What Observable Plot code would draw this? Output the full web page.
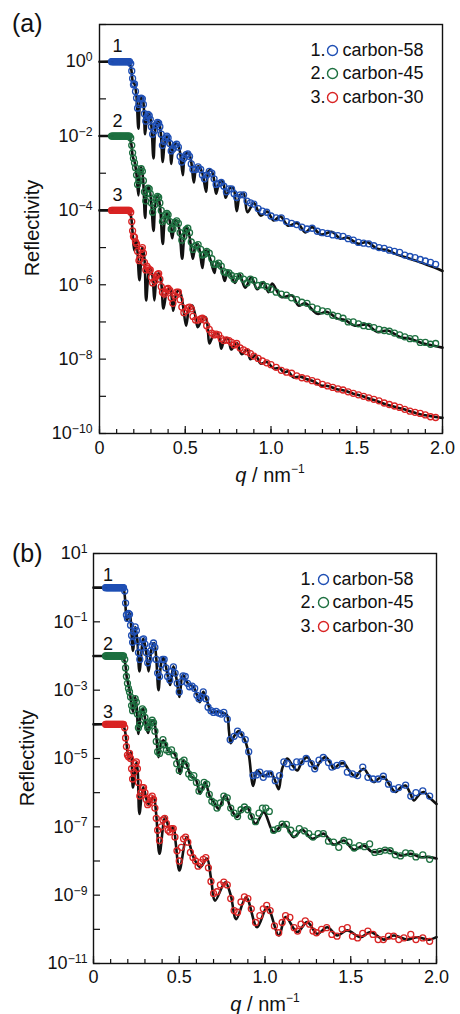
<!DOCTYPE html>
<html><head><meta charset="utf-8">
<script src="https://cdn.jsdelivr.net/npm/d3@7"></script>
<script src="https://cdn.jsdelivr.net/npm/@observablehq/plot@0.6"></script>
<style>
body{margin:0;background:#fff;font-family:"Liberation Sans",Arial,sans-serif;color:#111}
#wrap{position:relative;width:460px;height:1014px;overflow:hidden}
.panel{position:absolute;left:0}
.tag{position:absolute;font-size:25px;line-height:1;transform:translateY(-50%)}
.ylab{position:absolute;font-size:20px;white-space:nowrap;transform:translate(-50%,-50%) rotate(-90deg)}
.xlab{position:absolute;font-size:20px;white-space:nowrap;transform:translate(-50%,-50%)}
.xlab sup{font-size:12px;vertical-align:9px;line-height:0}
</style></head>
<body><div id="wrap"></div>
<script>
// ---------- shared ----------
const seriesNames = ["carbon-58", "carbon-45", "carbon-30"];
const seriesColors = ["#1f4fb4", "#1d7040", "#d92424"];
const curveNumbers = ["1", "2", "3"];
const xMinorTicks = [0,0.1,0.2,0.3,0.4,0.5,0.6,0.7,0.8,0.9,1.0,1.1,1.2,1.3,1.4,1.5,1.6,1.7,1.8,1.9,2.0];
const xMajorTicks = [0, 0.5, 1.0, 1.5, 2.0];
const flatQ = [0.07,0.075,0.08,0.085,0.09,0.095,0.1,0.105,0.11,0.115,0.12,0.125,0.13,0.135,0.14,0.145,0.15,0.155,0.16,0.165,0.17,0.175];

// ---------- panel (a): [q, log10 R] ----------
const aExpAll = [1,0,-1,-2,-3,-4,-5,-6,-7,-8,-9,-10];
const aExpLabeled = [0,-2,-4,-6,-8,-10];
const aFlat = [0, -2, -4];
const aFit1 = [[0,0],[0.1,0],[0.16,-0.01],[0.175,-0.05],[0.185,-0.2],[0.195,-0.55],[0.204,-0.6],[0.215,-0.9],[0.227,-1.8],[0.24,-1.0],[0.25,-0.96],[0.258,-1.2],[0.266,-1.95],[0.28,-1.45],[0.29,-1.42],[0.302,-1.7],[0.315,-2.6],[0.33,-1.7],[0.345,-1.62],[0.357,-1.9],[0.369,-2.7],[0.385,-2.05],[0.398,-2.0],[0.41,-2.2],[0.418,-2.75],[0.435,-2.25],[0.455,-2.22],[0.47,-2.45],[0.486,-3.05],[0.5,-2.5],[0.52,-2.46],[0.535,-2.7],[0.55,-3.25],[0.565,-2.85],[0.58,-2.82],[0.6,-3.0],[0.622,-3.5],[0.635,-2.95],[0.65,-2.92],[0.665,-3.1],[0.68,-3.55],[0.7,-3.25],[0.72,-3.23],[0.735,-3.66],[0.76,-3.4],[0.78,-3.4],[0.8,-4.02],[0.82,-3.58],[0.84,-3.55],[0.863,-4.05],[0.9,-3.8],[0.94,-4.14],[0.978,-4.03],[1.015,-4.27],[1.055,-4.16],[1.1,-4.41],[1.153,-4.34],[1.2,-4.59],[1.24,-4.45],[1.29,-4.65],[1.357,-4.58],[1.405,-4.76],[1.444,-4.73],[1.51,-4.9],[1.56,-4.85],[1.62,-5.03],[1.68,-5.07],[1.735,-5.19],[1.81,-5.3],[1.89,-5.43],[1.95,-5.53],[2.0,-5.63]];
const aFit2 = [[0,-2],[0.1,-2],[0.16,-2.01],[0.175,-2.05],[0.185,-2.2],[0.194,-2.55],[0.205,-2.7],[0.215,-3.0],[0.227,-3.6],[0.236,-2.9],[0.243,-2.84],[0.253,-3.1],[0.266,-4.2],[0.278,-3.45],[0.288,-3.38],[0.3,-3.7],[0.315,-4.55],[0.33,-3.65],[0.34,-3.6],[0.353,-3.9],[0.369,-4.9],[0.385,-4.15],[0.398,-4.09],[0.41,-4.3],[0.424,-4.75],[0.44,-4.3],[0.45,-4.27],[0.465,-4.5],[0.482,-5.3],[0.5,-4.5],[0.51,-4.45],[0.525,-4.7],[0.544,-5.3],[0.56,-4.95],[0.573,-4.9],[0.585,-5.1],[0.6,-5.55],[0.615,-5.1],[0.626,-5.08],[0.645,-5.3],[0.67,-5.68],[0.68,-5.45],[0.69,-5.4],[0.71,-5.55],[0.73,-5.9],[0.748,-5.62],[0.764,-5.72],[0.79,-5.95],[0.816,-5.72],[0.85,-6.08],[0.885,-5.8],[0.92,-6.12],[0.957,-5.93],[0.986,-6.2],[1.007,-5.97],[1.06,-6.33],[1.124,-6.29],[1.16,-6.56],[1.2,-6.5],[1.27,-6.78],[1.328,-6.73],[1.386,-6.91],[1.43,-6.95],[1.49,-7.1],[1.56,-7.07],[1.62,-7.27],[1.68,-7.23],[1.755,-7.41],[1.81,-7.45],[1.89,-7.58],[1.95,-7.64],[2.0,-7.69]];
const aFit3 = [[0,-4],[0.1,-4],[0.16,-4.01],[0.175,-4.05],[0.185,-4.2],[0.193,-4.6],[0.203,-5.08],[0.215,-4.8],[0.233,-5.88],[0.25,-4.99],[0.262,-5.3],[0.272,-6.42],[0.29,-5.6],[0.298,-5.57],[0.31,-5.8],[0.32,-6.42],[0.335,-5.75],[0.346,-5.69],[0.36,-5.95],[0.373,-6.64],[0.395,-6.15],[0.41,-6.1],[0.42,-6.3],[0.43,-6.7],[0.45,-6.2],[0.466,-6.16],[0.485,-6.5],[0.505,-7.1],[0.525,-6.6],[0.54,-6.56],[0.555,-6.75],[0.573,-7.14],[0.6,-6.9],[0.618,-6.87],[0.63,-7.1],[0.641,-7.58],[0.665,-7.35],[0.69,-7.31],[0.7,-7.45],[0.71,-7.72],[0.73,-7.47],[0.75,-7.45],[0.768,-7.74],[0.8,-7.57],[0.83,-7.87],[0.86,-7.74],[0.88,-8.0],[0.91,-7.9],[0.94,-8.12],[0.975,-8.08],[1.016,-8.25],[1.05,-8.24],[1.075,-8.36],[1.1,-8.33],[1.13,-8.49],[1.17,-8.47],[1.21,-8.54],[1.25,-8.6],[1.29,-8.71],[1.33,-8.72],[1.38,-8.8],[1.43,-8.85],[1.48,-8.93],[1.53,-8.99],[1.57,-9.06],[1.62,-9.13],[1.66,-9.2],[1.71,-9.27],[1.76,-9.33],[1.81,-9.4],[1.85,-9.46],[1.9,-9.51],[1.95,-9.55],[2.0,-9.58]];
const aData1 = [[0.182,-0.05],[0.188,-0.25],[0.193,-0.45],[0.198,-0.62],[0.204,-0.6],[0.21,-0.8],[0.216,-0.98],[0.222,-1.25],[0.23,-1.15],[0.236,-1.0],[0.243,-0.98],[0.25,-1.0],[0.256,-1.15],[0.262,-1.4],[0.27,-1.6],[0.276,-1.5],[0.283,-1.42],[0.29,-1.45],[0.296,-1.55],[0.303,-1.75],[0.31,-1.95],[0.322,-1.85],[0.33,-1.7],[0.338,-1.63],[0.345,-1.65],[0.352,-1.75],[0.36,-1.95],[0.367,-2.25],[0.378,-2.15],[0.386,-2.05],[0.393,-2.0],[0.4,-2.05],[0.41,-2.2],[0.418,-2.4],[0.428,-2.35],[0.44,-2.25],[0.45,-2.22],[0.46,-2.3],[0.47,-2.55],[0.48,-2.7],[0.492,-2.6],[0.505,-2.5],[0.515,-2.48],[0.525,-2.55],[0.535,-2.75],[0.545,-2.9],[0.56,-2.9],[0.575,-2.83],[0.59,-2.9],[0.6,-3.05],[0.612,-3.15],[0.625,-3.05],[0.64,-2.95],[0.655,-3.0],[0.668,-3.15],[0.68,-3.3],[0.695,-3.28],[0.71,-3.25],[0.725,-3.35],[0.74,-3.5],[0.755,-3.42],[0.77,-3.42],[0.785,-3.55],[0.8,-3.65],[0.82,-3.58],[0.84,-3.58],[0.86,-3.75],[0.88,-3.8],[0.9,-3.83],[0.925,-3.95],[0.95,-4.02],[0.975,-4.05],[1.0,-4.15],[1.03,-4.2],[1.06,-4.2],[1.09,-4.3],[1.12,-4.35],[1.15,-4.38],[1.18,-4.45],[1.21,-4.5],[1.24,-4.48],[1.27,-4.56],[1.3,-4.6],[1.33,-4.62],[1.36,-4.66],[1.39,-4.68],[1.42,-4.7],[1.45,-4.76],[1.48,-4.8],[1.51,-4.86],[1.54,-4.88],[1.57,-4.9],[1.6,-4.95],[1.63,-5.0],[1.66,-5.02],[1.69,-5.07],[1.72,-5.1],[1.75,-5.13],[1.78,-5.2],[1.81,-5.24],[1.84,-5.27],[1.87,-5.32],[1.9,-5.36],[1.93,-5.4],[1.96,-5.45]];
const aData2 = [[0.182,-2.05],[0.188,-2.25],[0.193,-2.45],[0.198,-2.6],[0.204,-2.72],[0.21,-2.85],[0.216,-3.05],[0.222,-3.3],[0.23,-3.2],[0.236,-2.95],[0.243,-2.88],[0.25,-2.95],[0.256,-3.2],[0.262,-3.5],[0.27,-3.75],[0.276,-3.55],[0.283,-3.4],[0.29,-3.42],[0.296,-3.55],[0.303,-3.8],[0.31,-4.05],[0.322,-3.85],[0.33,-3.68],[0.338,-3.62],[0.345,-3.65],[0.352,-3.8],[0.36,-4.0],[0.367,-4.3],[0.378,-4.25],[0.386,-4.12],[0.393,-4.08],[0.4,-4.12],[0.41,-4.3],[0.418,-4.5],[0.428,-4.5],[0.44,-4.32],[0.45,-4.28],[0.46,-4.35],[0.47,-4.6],[0.48,-4.8],[0.492,-4.7],[0.505,-4.52],[0.515,-4.48],[0.525,-4.6],[0.535,-4.85],[0.545,-5.05],[0.56,-4.95],[0.575,-4.92],[0.59,-5.05],[0.6,-5.2],[0.612,-5.18],[0.625,-5.1],[0.64,-5.15],[0.655,-5.3],[0.668,-5.45],[0.68,-5.45],[0.695,-5.42],[0.71,-5.5],[0.725,-5.65],[0.74,-5.68],[0.755,-5.68],[0.77,-5.75],[0.785,-5.85],[0.8,-5.78],[0.82,-5.76],[0.84,-5.85],[0.86,-5.95],[0.88,-5.85],[0.9,-5.88],[0.925,-6.02],[0.95,-6.0],[0.975,-6.05],[1.0,-6.12],[1.03,-6.2],[1.06,-6.25],[1.09,-6.28],[1.12,-6.35],[1.15,-6.4],[1.18,-6.47],[1.21,-6.5],[1.24,-6.6],[1.27,-6.65],[1.3,-6.7],[1.33,-6.72],[1.36,-6.82],[1.39,-6.85],[1.42,-6.9],[1.45,-7.0],[1.48,-7.0],[1.51,-7.05],[1.54,-7.1],[1.57,-7.12],[1.6,-7.15],[1.63,-7.2],[1.66,-7.23],[1.69,-7.25],[1.72,-7.3],[1.75,-7.35],[1.78,-7.4],[1.81,-7.45],[1.84,-7.45],[1.87,-7.55],[1.9,-7.55],[1.93,-7.6],[1.96,-7.58]];
const aData3 = [[0.182,-4.05],[0.188,-4.3],[0.193,-4.55],[0.198,-4.7],[0.204,-4.72],[0.21,-4.85],[0.216,-4.9],[0.222,-5.1],[0.23,-5.35],[0.236,-5.3],[0.243,-5.05],[0.25,-5.0],[0.256,-5.15],[0.262,-5.4],[0.27,-5.6],[0.276,-5.5],[0.283,-5.55],[0.29,-5.6],[0.296,-5.6],[0.303,-5.8],[0.31,-5.95],[0.322,-5.9],[0.33,-5.78],[0.338,-5.72],[0.345,-5.7],[0.352,-5.85],[0.36,-6.05],[0.367,-6.2],[0.378,-6.25],[0.386,-6.2],[0.393,-6.12],[0.4,-6.1],[0.41,-6.15],[0.418,-6.35],[0.428,-6.5],[0.44,-6.3],[0.45,-6.2],[0.46,-6.2],[0.47,-6.4],[0.48,-6.6],[0.492,-6.75],[0.505,-6.7],[0.515,-6.62],[0.525,-6.6],[0.535,-6.65],[0.545,-6.85],[0.56,-6.95],[0.575,-6.95],[0.59,-6.92],[0.6,-6.9],[0.612,-6.95],[0.625,-7.1],[0.64,-7.2],[0.655,-7.3],[0.668,-7.35],[0.68,-7.33],[0.695,-7.35],[0.71,-7.45],[0.725,-7.5],[0.74,-7.48],[0.755,-7.5],[0.77,-7.55],[0.785,-7.62],[0.8,-7.58],[0.82,-7.7],[0.84,-7.75],[0.86,-7.8],[0.88,-7.85],[0.9,-7.92],[0.925,-7.98],[0.95,-8.05],[0.975,-8.1],[1.0,-8.15],[1.03,-8.22],[1.06,-8.3],[1.09,-8.35],[1.12,-8.38],[1.15,-8.45],[1.18,-8.5],[1.21,-8.53],[1.24,-8.58],[1.27,-8.62],[1.3,-8.68],[1.33,-8.72],[1.36,-8.76],[1.39,-8.8],[1.42,-8.83],[1.45,-8.88],[1.48,-8.92],[1.51,-8.96],[1.54,-9.0],[1.57,-9.04],[1.6,-9.08],[1.63,-9.12],[1.66,-9.18],[1.69,-9.22],[1.72,-9.26],[1.75,-9.3],[1.78,-9.35],[1.81,-9.4],[1.84,-9.43],[1.87,-9.46],[1.9,-9.5],[1.93,-9.55],[1.96,-9.57]];

// ---------- panel (b): [q, log10 R] ----------
const bExpAll = [1,0,-1,-2,-3,-4,-5,-6,-7,-8,-9,-10,-11];
const bExpLabeled = [1,-1,-3,-5,-7,-9,-11];
const bFlat = [0, -2, -4];
const bFit1 = [[0,0],[0.1,0],[0.16,-0.01],[0.175,-0.05],[0.185,-0.4],[0.194,-0.96],[0.21,-0.75],[0.23,-1.85],[0.243,-1.15],[0.255,-1.5],[0.268,-2.45],[0.29,-1.5],[0.305,-1.8],[0.321,-2.45],[0.34,-1.75],[0.354,-1.62],[0.365,-2.0],[0.379,-3.0],[0.395,-2.2],[0.408,-2.05],[0.43,-2.5],[0.447,-2.85],[0.466,-2.3],[0.485,-2.7],[0.501,-3.2],[0.521,-2.55],[0.55,-2.8],[0.583,-2.9],[0.6,-3.1],[0.62,-3.35],[0.64,-3.05],[0.661,-3.3],[0.69,-3.65],[0.72,-3.62],[0.75,-3.66],[0.777,-3.72],[0.79,-4.2],[0.8,-4.55],[0.82,-4.35],[0.847,-4.2],[0.87,-4.35],[0.886,-4.5],[0.906,-4.9],[0.931,-5.8],[0.954,-5.35],[0.975,-5.45],[0.993,-5.52],[1.032,-5.42],[1.055,-5.6],[1.08,-5.9],[1.1,-5.3],[1.129,-5.0],[1.16,-5.2],[1.188,-5.35],[1.215,-5.1],[1.246,-4.96],[1.27,-5.12],[1.294,-5.3],[1.32,-5.1],[1.353,-4.96],[1.38,-5.12],[1.401,-5.3],[1.43,-5.18],[1.46,-5.14],[1.49,-5.35],[1.528,-5.54],[1.55,-5.4],[1.576,-5.3],[1.605,-5.5],[1.635,-5.69],[1.665,-5.58],[1.693,-5.54],[1.73,-5.8],[1.761,-5.98],[1.79,-5.85],[1.819,-5.79],[1.845,-6.0],[1.868,-6.23],[1.9,-6.05],[1.926,-5.98],[1.96,-6.15],[2.0,-6.33]];
const bFit2 = [[0,-2],[0.1,-2],[0.16,-2.01],[0.175,-2.06],[0.185,-2.23],[0.194,-2.62],[0.21,-3.0],[0.23,-3.64],[0.243,-3.2],[0.252,-3.5],[0.262,-4.28],[0.28,-3.6],[0.29,-3.55],[0.305,-4.0],[0.318,-4.25],[0.335,-3.92],[0.35,-3.89],[0.365,-4.3],[0.379,-4.96],[0.395,-4.55],[0.408,-4.47],[0.443,-4.81],[0.47,-4.85],[0.49,-5.1],[0.505,-5.45],[0.525,-5.06],[0.545,-5.2],[0.57,-5.54],[0.595,-5.6],[0.622,-6.03],[0.65,-5.69],[0.68,-6.13],[0.705,-6.3],[0.729,-6.47],[0.768,-6.08],[0.8,-6.45],[0.836,-6.71],[0.865,-6.5],[0.894,-6.42],[0.945,-6.91],[0.993,-6.57],[1.051,-7.16],[1.109,-6.91],[1.168,-7.3],[1.217,-7.09],[1.275,-7.35],[1.343,-7.2],[1.401,-7.52],[1.46,-7.4],[1.518,-7.67],[1.576,-7.55],[1.62,-7.72],[1.654,-7.74],[1.712,-7.67],[1.79,-7.84],[1.85,-7.79],[1.907,-7.89],[1.95,-7.88],[2.0,-7.93]];
const bFit3 = [[0,-4],[0.1,-4],[0.16,-4.01],[0.175,-4.05],[0.185,-4.23],[0.194,-4.62],[0.204,-5.01],[0.218,-4.82],[0.23,-5.85],[0.25,-5.11],[0.258,-5.4],[0.268,-6.62],[0.29,-5.84],[0.32,-6.33],[0.35,-6.13],[0.365,-6.6],[0.385,-7.79],[0.418,-6.72],[0.447,-7.11],[0.466,-7.01],[0.48,-7.5],[0.501,-8.28],[0.544,-7.3],[0.583,-7.89],[0.622,-8.18],[0.661,-7.93],[0.685,-8.5],[0.709,-9.16],[0.768,-8.62],[0.8,-9.0],[0.832,-9.7],[0.89,-9.06],[0.954,-9.94],[1.013,-9.35],[1.081,-10.18],[1.12,-9.64],[1.188,-10.08],[1.246,-9.79],[1.304,-10.13],[1.363,-9.94],[1.421,-10.18],[1.479,-10.03],[1.557,-10.23],[1.615,-10.08],[1.693,-10.3],[1.751,-10.18],[1.829,-10.3],[1.888,-10.23],[1.957,-10.3],[2.0,-10.23]];
const bData1 = [[0.182,-0.1],[0.187,-0.45],[0.192,-0.8],[0.198,-0.9],[0.204,-0.75],[0.21,-0.78],[0.216,-1.1],[0.222,-1.4],[0.228,-1.6],[0.236,-1.3],[0.243,-1.15],[0.25,-1.25],[0.256,-1.55],[0.262,-1.9],[0.27,-2.1],[0.277,-1.75],[0.285,-1.52],[0.292,-1.5],[0.3,-1.65],[0.308,-1.9],[0.316,-2.2],[0.325,-2.1],[0.333,-1.85],[0.342,-1.7],[0.35,-1.62],[0.358,-1.75],[0.366,-2.1],[0.374,-2.5],[0.385,-2.6],[0.395,-2.25],[0.403,-2.1],[0.412,-2.1],[0.422,-2.35],[0.432,-2.6],[0.445,-2.7],[0.455,-2.45],[0.466,-2.32],[0.476,-2.5],[0.488,-2.8],[0.5,-3.05],[0.512,-2.75],[0.522,-2.58],[0.535,-2.6],[0.548,-2.8],[0.56,-2.9],[0.575,-2.88],[0.59,-2.95],[0.603,-3.15],[0.615,-3.25],[0.628,-3.2],[0.64,-3.05],[0.655,-3.25],[0.668,-3.5],[0.685,-3.6],[0.7,-3.65],[0.715,-3.62],[0.73,-3.67],[0.745,-3.7],[0.76,-3.65],[0.78,-3.85],[0.797,-4.45],[0.82,-4.35],[0.84,-4.2],[0.86,-4.3],[0.885,-4.45],[0.905,-4.8],[0.93,-5.5],[0.95,-5.48],[0.97,-5.4],[0.99,-5.55],[1.01,-5.45],[1.03,-5.45],[1.06,-5.65],[1.085,-5.5],[1.11,-5.1],[1.13,-5.15],[1.16,-5.25],[1.185,-5.1],[1.21,-5.1],[1.24,-5.0],[1.27,-5.15],[1.29,-5.3],[1.315,-5.05],[1.34,-4.97],[1.37,-5.12],[1.39,-5.25],[1.42,-5.2],[1.45,-5.15],[1.48,-5.4],[1.51,-5.45],[1.54,-5.5],[1.57,-5.25],[1.6,-5.55],[1.63,-5.6],[1.66,-5.6],[1.69,-5.52],[1.72,-5.75],[1.75,-5.9],[1.78,-5.85],[1.82,-5.78],[1.85,-6.1],[1.88,-6.0],[1.92,-5.95],[1.96,-6.1]];
const bData2 = [[0.182,-2.1],[0.187,-2.35],[0.192,-2.6],[0.198,-2.8],[0.204,-2.95],[0.21,-3.05],[0.216,-3.2],[0.222,-3.45],[0.228,-3.6],[0.236,-3.45],[0.243,-3.25],[0.25,-3.35],[0.256,-3.7],[0.262,-4.1],[0.27,-4.0],[0.277,-3.7],[0.285,-3.55],[0.292,-3.6],[0.3,-3.8],[0.308,-3.95],[0.316,-4.1],[0.325,-4.05],[0.333,-3.95],[0.342,-3.88],[0.35,-3.95],[0.358,-4.2],[0.366,-4.5],[0.374,-4.8],[0.385,-4.85],[0.395,-4.6],[0.405,-4.45],[0.415,-4.6],[0.425,-4.75],[0.44,-4.8],[0.455,-4.75],[0.47,-4.9],[0.485,-5.15],[0.5,-5.35],[0.515,-5.1],[0.528,-5.05],[0.54,-5.2],[0.555,-5.45],[0.57,-5.55],[0.585,-5.5],[0.6,-5.7],[0.615,-5.95],[0.63,-5.85],[0.645,-5.7],[0.66,-5.75],[0.675,-6.05],[0.69,-6.25],[0.705,-6.3],[0.72,-6.45],[0.74,-6.3],[0.76,-6.1],[0.78,-6.15],[0.8,-6.45],[0.82,-6.6],[0.84,-6.7],[0.86,-6.5],[0.88,-6.42],[0.9,-6.5],[0.92,-6.7],[0.945,-6.85],[0.965,-6.6],[0.985,-6.45],[1.005,-6.45],[1.025,-6.55],[1.05,-7.1],[1.075,-7.05],[1.1,-6.92],[1.125,-6.93],[1.15,-7.1],[1.175,-7.2],[1.2,-7.05],[1.23,-7.12],[1.255,-7.2],[1.28,-7.3],[1.31,-7.2],[1.34,-7.2],[1.37,-7.42],[1.4,-7.45],[1.43,-7.6],[1.46,-7.4],[1.49,-7.45],[1.52,-7.62],[1.55,-7.55],[1.58,-7.58],[1.61,-7.5],[1.64,-7.75],[1.67,-7.72],[1.7,-7.68],[1.73,-7.7],[1.76,-7.82],[1.79,-7.85],[1.82,-7.76],[1.85,-7.78],[1.88,-7.88],[1.92,-7.82],[1.96,-7.95]];
const bData3 = [[0.182,-4.1],[0.187,-4.4],[0.192,-4.65],[0.198,-4.9],[0.204,-4.95],[0.21,-4.85],[0.216,-5.0],[0.222,-5.3],[0.228,-5.6],[0.236,-5.4],[0.243,-5.15],[0.25,-5.1],[0.256,-5.3],[0.262,-5.7],[0.27,-6.1],[0.277,-6.0],[0.285,-5.85],[0.292,-5.85],[0.3,-6.0],[0.308,-6.2],[0.316,-6.35],[0.325,-6.3],[0.333,-6.15],[0.342,-6.1],[0.35,-6.2],[0.358,-6.45],[0.366,-6.75],[0.374,-7.1],[0.385,-7.4],[0.395,-7.0],[0.405,-6.8],[0.415,-6.75],[0.425,-6.9],[0.435,-7.1],[0.445,-7.15],[0.455,-7.05],[0.465,-7.05],[0.475,-7.3],[0.487,-7.7],[0.5,-8.0],[0.512,-7.6],[0.525,-7.35],[0.537,-7.3],[0.55,-7.45],[0.565,-7.75],[0.58,-7.9],[0.595,-8.0],[0.61,-8.15],[0.625,-8.05],[0.64,-7.95],[0.655,-7.9],[0.67,-8.2],[0.685,-8.6],[0.7,-8.95],[0.72,-8.9],[0.74,-8.7],[0.76,-8.62],[0.78,-8.7],[0.8,-9.1],[0.82,-9.45],[0.84,-9.5],[0.86,-9.2],[0.88,-9.05],[0.9,-9.1],[0.92,-9.4],[0.945,-9.8],[0.97,-9.6],[0.99,-9.4],[1.01,-9.3],[1.03,-9.45],[1.055,-9.9],[1.08,-10.1],[1.1,-9.8],[1.12,-9.6],[1.145,-9.65],[1.17,-9.95],[1.19,-10.05],[1.21,-9.85],[1.235,-9.75],[1.26,-9.85],[1.28,-10.05],[1.3,-10.1],[1.33,-10.0],[1.36,-9.95],[1.39,-10.15],[1.42,-10.2],[1.45,-10.0],[1.48,-9.95],[1.51,-10.2],[1.54,-10.25],[1.57,-10.12],[1.6,-10.05],[1.63,-10.15],[1.66,-10.3],[1.69,-10.3],[1.72,-10.2],[1.75,-10.2],[1.78,-10.3],[1.81,-10.25],[1.85,-10.15],[1.88,-10.3],[1.92,-10.25],[1.96,-10.35]];

// ---------- drawing ----------
const toRows = arr => arr.map(([q, e]) => ({q, r: Math.pow(10, e)}));
const fmtX = d => d === 0 ? "0" : d.toFixed(1);

function supify(svg) {
  svg.querySelectorAll("text").forEach(t => {
    const m = /^10\^(-?\d+)$/.exec(t.textContent);
    if (!m) return;
    t.textContent = "10";
    const ts = document.createElementNS("http://www.w3.org/2000/svg", "tspan");
    ts.setAttribute("dy", "-0.5em");
    ts.setAttribute("font-size", "0.68em");
    ts.textContent = m[1].replace("-", "\u2212");
    t.appendChild(ts);
  });
}

function panel(cfg) {
  const marks = [
    Plot.frame({stroke: "#111", strokeWidth: 1.4}),
    Plot.axisX(xMinorTicks, {tickSize: -4, tickFormat: () => "", label: null, strokeWidth: 1.2}),
    Plot.axisX(xMajorTicks, {tickSize: -7, tickFormat: () => "", label: null, strokeWidth: 1.2}),
    Plot.axisX(xMajorTicks, {tickSize: 0, tickPadding: cfg.xPad, tickFormat: fmtX, label: null, fontSize: 18}),
    Plot.axisY(cfg.expAll.map(e => Math.pow(10, e)), {tickSize: -7, tickFormat: () => "", label: null, strokeWidth: 1.2}),
    Plot.axisY(cfg.expLabeled.map(e => Math.pow(10, e)), {tickSize: 0, tickPadding: cfg.yPad, tickFormat: d => "10^" + Math.round(Math.log10(d)), label: null, fontSize: 18})
  ];
  cfg.fits.forEach(f => marks.push(Plot.line(toRows(f), {x: "q", y: "r", stroke: "#111", strokeWidth: 2.6, curve: "catmull-rom"})));
  cfg.datas.forEach((d, i) => {
    const flat = flatQ.map(q => [q, cfg.flat[i]]);
    marks.push(Plot.dot(toRows(flat.concat(d)), {x: "q", y: "r", r: 3, stroke: seriesColors[i], strokeWidth: 1.3, fill: "none"}));
  });
  marks.push(Plot.text(curveNumbers.map((t, i) => ({t, q: cfg.numQ, r: Math.pow(10, cfg.flat[i])})),
    {x: "q", y: "r", text: "t", dy: cfg.numDy, fontSize: 18, fill: "#111"}));
  const rowDy = [26, 49, 73];
  seriesNames.forEach((name, i) => {
    marks.push(Plot.text([curveNumbers[i] + "."], {text: d => d, frameAnchor: "top-right", dx: cfg.legNum, dy: rowDy[i], textAnchor: "end", lineAnchor: "middle", fontSize: 18, fill: "#111"}));
    marks.push(Plot.dot([0], {frameAnchor: "top-right", dx: cfg.legDot, dy: rowDy[i], r: 5, stroke: seriesColors[i], strokeWidth: 1.4, fill: "none"}));
    marks.push(Plot.text([name], {text: d => d, frameAnchor: "top-right", dx: cfg.legTxt, dy: rowDy[i], textAnchor: "start", lineAnchor: "middle", fontSize: 18, fill: "#111"}));
  });
  const svg = Plot.plot({
    width: 460, height: cfg.height,
    marginLeft: cfg.ml, marginRight: cfg.mr, marginTop: cfg.mt, marginBottom: cfg.mb,
    style: {fontFamily: '"Liberation Sans", Arial, sans-serif', fontSize: "18px", color: "#111", background: "transparent", overflow: "visible"},
    x: {domain: [0, 2]},
    y: {type: "log", domain: cfg.yDomain},
    marks
  });
  supify(svg);
  return svg;
}

const wrap = document.getElementById("wrap");
function place(el, top) { const d = document.createElement("div"); d.className = "panel"; d.style.top = top + "px"; d.appendChild(el); wrap.appendChild(d); }
function html(cls, text, left, top) { const d = document.createElement("div"); d.className = cls; d.innerHTML = text; d.style.left = left + "px"; d.style.top = top + "px"; wrap.appendChild(d); }

place(panel({height: 500, ml: 99, mr: 18, mt: 24, mb: 67, yDomain: [1e-10, 10],
  expAll: aExpAll, expLabeled: aExpLabeled, flat: aFlat,
  fits: [aFit1, aFit2, aFit3], datas: [aData1, aData2, aData3],
  xPad: 8, yPad: 7, numQ: 0.105, numDy: -15, legNum: -117, legDot: -110, legTxt: -100}), 0);
place(panel({height: 514, ml: 93, mr: 24, mt: 53, mb: 51, yDomain: [1e-11, 10],
  expAll: bExpAll, expLabeled: bExpLabeled, flat: bFlat,
  fits: [bFit1, bFit2, bFit3], datas: [bData1, bData2, bData3],
  xPad: 7, yPad: 6, numQ: 0.085, numDy: -12, legNum: -121, legDot: -113, legTxt: -104}), 500);

html("tag", "(a)", 12, 23);
html("tag", "(b)", 12, 553);
html("ylab", "Reflectivity", 32, 228);
html("ylab", "Reflectivity", 27, 758);
html("xlab", "<i>q</i> / nm<sup>\u22121</sup>", 270, 475);
html("xlab", "<i>q</i> / nm<sup>\u22121</sup>", 265, 1004);
</script>
</body></html>
